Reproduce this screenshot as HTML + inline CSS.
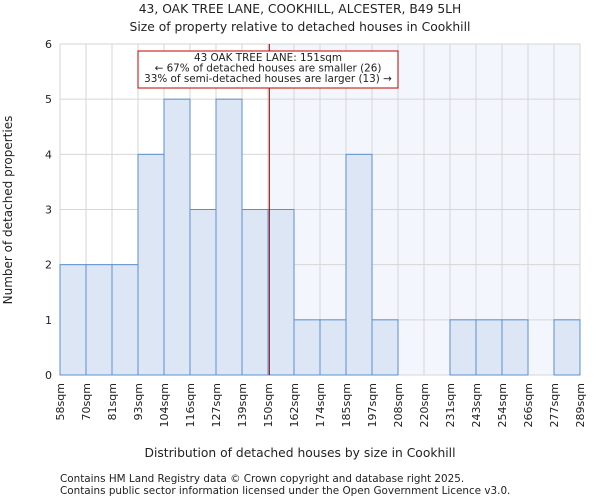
<!DOCTYPE html>
<html><head><meta charset="utf-8"><style>
body{margin:0;background:#fff;font-family:"DejaVu Sans","Liberation Sans",sans-serif}
svg text{font-family:"DejaVu Sans","Liberation Sans",sans-serif;fill:#222}
</style></head><body>
<svg id="c" width="600" height="500" xmlns="http://www.w3.org/2000/svg">
<text x="300" y="13" text-anchor="middle" font-size="12.3">43, OAK TREE LANE, COOKHILL, ALCESTER, B49 5LH</text>
<text x="300" y="31" text-anchor="middle" font-size="12.3">Size of property relative to detached houses in Cookhill</text>
<g id="plot"></g>
<text x="300" y="457" text-anchor="middle" font-size="12.3">Distribution of detached houses by size in Cookhill</text>
<text transform="translate(12,210) rotate(-90)" text-anchor="middle" font-size="12">Number of detached properties</text>
<text x="60" y="482" font-size="10.4">Contains HM Land Registry data © Crown copyright and database right 2025.</text>
<text x="60" y="494" font-size="10.4">Contains public sector information licensed under the Open Government Licence v3.0.</text>
</svg>
<script>
const tickLabels=["58sqm","70sqm","81sqm","93sqm","104sqm","116sqm","127sqm","139sqm","150sqm","162sqm","174sqm","185sqm","197sqm","208sqm","220sqm","231sqm","243sqm","254sqm","266sqm","277sqm","289sqm"];
const counts=[2,2,2,4,5,3,5,3,3,1,1,4,1,0,0,1,1,1,0,1];
const yTicks=[0,1,2,3,4,5,6];
const markerBin=8.05;
const NS="http://www.w3.org/2000/svg";
const L=60,R=580,T=44,B=375,yMax=6;
const bw=(R-L)/counts.length;
const xs=i=>L+i*bw;
const ys=v=>B-(v/yMax)*(B-T);
const g=document.getElementById('plot');
function mk(t,a){const e=document.createElementNS(NS,t);for(const k in a)e.setAttribute(k,a[k]);g.appendChild(e);return e;}
let e;
e=mk('rect',{x:xs(markerBin),y:T,width:R-xs(markerBin),height:B-T,fill:'#f3f6fd'});


for(let i=0;i<=counts.length;i++){e=mk('line',{x1:xs(i),x2:xs(i),y1:T,y2:B,stroke:'#d6d6d6','stroke-width':1});

}
yTicks.forEach(v=>{e=mk('line',{x1:L,x2:R,y1:ys(v),y2:ys(v),stroke:'#d6d6d6','stroke-width':1});


e=mk('text',{x:L-8,y:ys(v)+4,'text-anchor':'end','font-size':11});e.textContent=v;

});
counts.forEach((c,i)=>{if(c<=0)return;e=mk('rect',{x:xs(i),y:ys(c),width:bw,height:B-ys(c),fill:'#dce6f5',stroke:'#5b8fd0','stroke-width':1});

});
tickLabels.forEach((t,i)=>{const x=xs(i);e=mk('text',{transform:`translate(${x+4},${B+8}) rotate(-90)`,'text-anchor':'end','font-size':11});e.textContent=t;

});
e=mk('line',{x1:xs(markerBin),x2:xs(markerBin),y1:T,y2:B,stroke:'#880000','stroke-width':1});


e=mk('rect',{x:138,y:51,width:260,height:37,fill:'#fff',stroke:'#c00000','stroke-width':1});


["43 OAK TREE LANE: 151sqm","← 67% of detached houses are smaller (26)","33% of semi-detached houses are larger (13) →"].forEach((t,i)=>{e=mk('text',{x:268,y:61+i*10.5,'text-anchor':'middle','font-size':10.4});e.textContent=t;

});
</script>
</body></html>
